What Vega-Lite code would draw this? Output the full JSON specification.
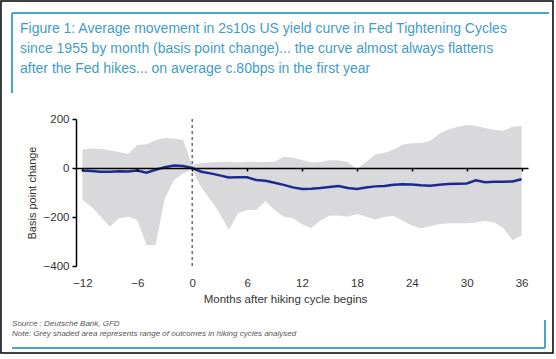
{
  "$schema": "https://vega.github.io/schema/vega-lite/v6.json",
  "autosize": "none",
  "width": 452,
  "height": 147,
  "padding": {"left": 76, "top": 119, "right": 28, "bottom": 93},
  "background": "white",
  "config": {"view": {"stroke": null}, "font": "Liberation Sans"},
  "datasets": {
    "cycles": [
      {"month": -12, "hi": 76, "lo": -131, "mean": -10},
      {"month": -11, "hi": 80, "lo": -158, "mean": -12},
      {"month": -10, "hi": 78, "lo": -199, "mean": -15},
      {"month": -9, "hi": 71, "lo": -240, "mean": -15},
      {"month": -8, "hi": 65, "lo": -205, "mean": -13},
      {"month": -7, "hi": 57, "lo": -199, "mean": -14},
      {"month": -6, "hi": 94, "lo": -212, "mean": -10},
      {"month": -5, "hi": 97, "lo": -314, "mean": -19},
      {"month": -4, "hi": 114, "lo": -314, "mean": -7},
      {"month": -3, "hi": 122, "lo": -124, "mean": 3},
      {"month": -2, "hi": 120, "lo": -49, "mean": 10},
      {"month": -1, "hi": 114, "lo": -22, "mean": 8},
      {"month": 0, "hi": 12, "lo": -5, "mean": 0},
      {"month": 1, "hi": 19, "lo": -80, "mean": -15},
      {"month": 2, "hi": 22, "lo": -130, "mean": -22},
      {"month": 3, "hi": 24, "lo": -185, "mean": -30},
      {"month": 4, "hi": 26, "lo": -253, "mean": -39},
      {"month": 5, "hi": 22, "lo": -185, "mean": -38},
      {"month": 6, "hi": 26, "lo": -171, "mean": -38},
      {"month": 7, "hi": 25, "lo": -171, "mean": -49},
      {"month": 8, "hi": 24, "lo": -135, "mean": -52},
      {"month": 9, "hi": 26, "lo": -171, "mean": -60},
      {"month": 10, "hi": 46, "lo": -199, "mean": -69},
      {"month": 11, "hi": 42, "lo": -205, "mean": -79},
      {"month": 12, "hi": 33, "lo": -230, "mean": -86},
      {"month": 13, "hi": 22, "lo": -245, "mean": -85},
      {"month": 14, "hi": 25, "lo": -215, "mean": -82},
      {"month": 15, "hi": 32, "lo": -195, "mean": -78},
      {"month": 16, "hi": 32, "lo": -195, "mean": -74},
      {"month": 17, "hi": 24, "lo": -199, "mean": -82},
      {"month": 18, "hi": -5, "lo": -188, "mean": -86},
      {"month": 19, "hi": 25, "lo": -199, "mean": -80},
      {"month": 20, "hi": 55, "lo": -210, "mean": -75},
      {"month": 21, "hi": 62, "lo": -200, "mean": -73},
      {"month": 22, "hi": 75, "lo": -196, "mean": -68},
      {"month": 23, "hi": 95, "lo": -215, "mean": -66},
      {"month": 24, "hi": 101, "lo": -235, "mean": -67},
      {"month": 25, "hi": 102, "lo": -246, "mean": -70},
      {"month": 26, "hi": 110, "lo": -238, "mean": -72},
      {"month": 27, "hi": 140, "lo": -230, "mean": -68},
      {"month": 28, "hi": 157, "lo": -226, "mean": -65},
      {"month": 29, "hi": 168, "lo": -226, "mean": -64},
      {"month": 30, "hi": 176, "lo": -226, "mean": -63},
      {"month": 31, "hi": 172, "lo": -222, "mean": -50},
      {"month": 32, "hi": 163, "lo": -215, "mean": -58},
      {"month": 33, "hi": 156, "lo": -222, "mean": -56},
      {"month": 34, "hi": 152, "lo": -245, "mean": -56},
      {"month": 35, "hi": 168, "lo": -295, "mean": -55},
      {"month": 36, "hi": 171, "lo": -275, "mean": -46}
    ],
    "one": [{}]
  },
  "layer": [
    {
      "data": {"name": "cycles"},
      "mark": {"type": "area", "color": "#d9d9dc", "opacity": 1},
      "encoding": {
        "x": {"field": "month", "type": "quantitative",
          "scale": {"domain": [-12.7, 36.7], "nice": false, "zero": false},
          "axis": {
            "values": [-12, -6, 0, 6, 12, 18, 24, 30, 36],
            "offset": -98,
            "zindex": 1,
            "domainColor": "#000000",
            "domainWidth": 1.5,
            "tickColor": "#000000",
            "tickSize": 3,
            "tickWidth": 1.5,
            "labelPadding": 106,
            "labelFontSize": 11.5,
            "labelColor": "#333333",
            "labelFlush": false,
            "grid": false,
            "title": "Months after hiking cycle begins",
            "titleFontSize": 11.5,
            "titleFontWeight": "normal",
            "titleColor": "#333333",
            "titlePadding": 5,
            "titleX": 209
          }
        },
        "y": {"field": "lo", "type": "quantitative",
          "scale": {"domain": [-400, 200], "nice": false, "zero": false},
          "axis": {
            "values": [-400, -300, -200, -100, 0, 100, 200],
            "domainColor": "#000000",
            "domainWidth": 1.5,
            "tickColor": "#000000",
            "tickSize": 4,
            "tickWidth": 1.5,
            "labelPadding": 3,
            "labelFontSize": 11.5,
            "labelColor": "#333333",
            "grid": false,
            "title": "Basis point change",
            "titleFontSize": 11,
            "titleFontWeight": "normal",
            "titleColor": "#333333",
            "titlePadding": 6
          }
        },
        "y2": {"field": "hi"}
      }
    },
    {
      "data": {"name": "one"},
      "mark": {"type": "rule", "color": "#555555", "strokeDash": [3, 3], "strokeWidth": 1.3},
      "encoding": {"x": {"datum": 0}}
    },
    {
      "data": {"name": "cycles"},
      "mark": {"type": "line", "color": "#1c2a8f", "strokeWidth": 2.5},
      "encoding": {
        "x": {"field": "month", "type": "quantitative"},
        "y": {"field": "mean", "type": "quantitative"}
      }
    },
    {
      "data": {"name": "one"},
      "mark": {"type": "rect", "fill": null, "stroke": "#000000", "strokeWidth": 1.5, "clip": false},
      "encoding": {
        "x": {"datum": -20.9}, "x2": {"datum": 39.43},
        "y": {"datum": 681.6}, "y2": {"datum": -755.1}
      }
    },
    {
      "data": {"name": "one"},
      "mark": {"type": "rule", "color": "#4aa3d0", "strokeWidth": 2, "clip": false},
      "encoding": {
        "x": {"datum": -19.69}, "x2": {"datum": 38.99},
        "y": {"datum": 632.7}
      }
    },
    {
      "data": {"name": "one"},
      "mark": {"type": "rule", "color": "#4aa3d0", "strokeWidth": 2, "clip": false},
      "encoding": {
        "x": {"datum": -19.69},
        "y": {"datum": 632.7}, "y2": {"datum": 306.1}
      }
    },
    {
      "data": {"name": "one"},
      "mark": {"type": "rule", "color": "#4aa3d0", "strokeWidth": 2, "clip": false},
      "encoding": {
        "x": {"datum": -19.69}, "x2": {"datum": 38.56},
        "y": {"datum": -734.7}
      }
    },
    {
      "data": {"name": "one"},
      "mark": {"type": "rule", "color": "#4aa3d0", "strokeWidth": 2, "clip": false},
      "encoding": {
        "x": {"datum": 38.56},
        "y": {"datum": -620.4}, "y2": {"datum": -734.7}
      }
    },
    {
      "data": {"name": "one"},
      "mark": {"type": "text", "align": "left", "baseline": "alphabetic", "fontSize": 14, "lineHeight": 20, "color": "#3f9dc9", "clip": false},
      "encoding": {
        "x": {"datum": -18.82},
        "y": {"datum": 551.0},
        "text": {"value": ["Figure 1: Average movement in 2s10s US yield curve in Fed Tightening Cycles", "since 1955 by month (basis point change)... the curve almost always flattens", "after the Fed hikes... on average c.80bps in the first year"]}
      }
    },
    {
      "data": {"name": "one"},
      "mark": {"type": "text", "align": "left", "baseline": "middle", "fontSize": 8, "fontStyle": "italic", "color": "#555555", "clip": false},
      "encoding": {
        "x": {"datum": -19.69},
        "y": {"datum": -636.7},
        "text": {"value": "Source : Deutsche Bank, GFD"}
      }
    },
    {
      "data": {"name": "one"},
      "mark": {"type": "text", "align": "left", "baseline": "middle", "fontSize": 8, "fontStyle": "italic", "color": "#555555", "clip": false},
      "encoding": {
        "x": {"datum": -19.69},
        "y": {"datum": -677.5},
        "text": {"value": "Note: Grey shaded area represents range of outcomes in hiking cycles analysed"}
      }
    }
  ]
}
